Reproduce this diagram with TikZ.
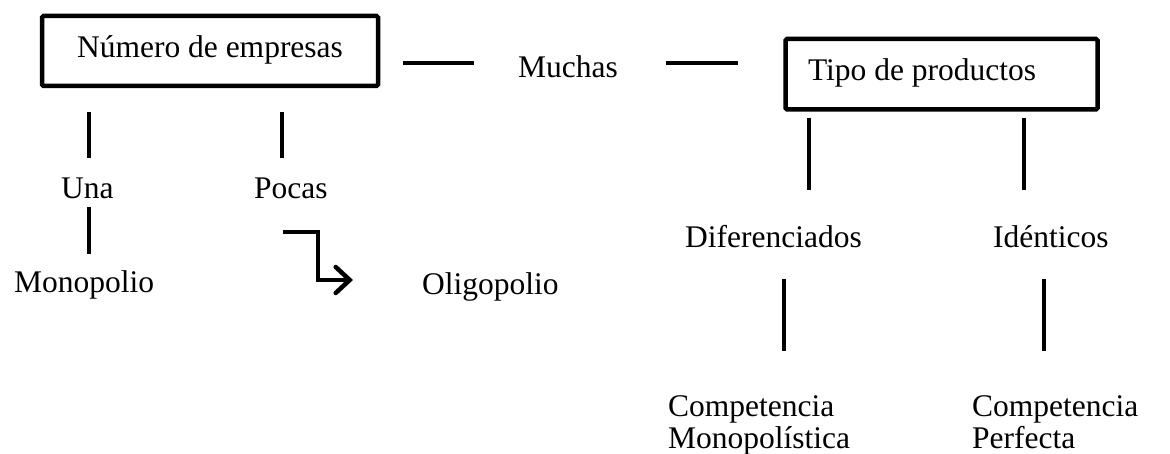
\documentclass[tikz,border=0pt]{standalone}
\usepackage{fontspec}
\setmainfont{Liberation Serif}
\usetikzlibrary{arrows.meta}
\begin{document}
\begin{tikzpicture}[x=1pt,y=-1pt,
  lbl/.style={anchor=base west, inner sep=0pt, font=\fontsize{31.5}{33}\selectfont},
  conn/.style={line width=4.5pt},
  boxnode/.style={draw, line width=4.5pt, rounded corners=1.5pt, inner sep=0pt,
    font=\fontsize{31.5}{33}\selectfont}]
\useasboundingbox (0,0) rectangle (1170,454);

% boxes
\node[boxnode, minimum width=336pt, minimum height=70pt, text height=19.6pt, text depth=7pt] (num) at (210,51) {Número de empresas};
\node[boxnode, minimum height=70.5pt, inner xsep=22.5pt, text height=20.5pt, text depth=7pt] (tipo) at (941.5,74.25) {\makebox[267pt][l]{Tipo de productos}};

% labels
\node[lbl] (muchas) at (518,78) {Muchas};
\node[lbl] (una) at (61,199) {Una};
\node[lbl] (pocas) at (254,199) {Pocas};
\node[lbl] (mono) at (14,293) {Monopolio};
\node[lbl] (oligo) at (422,295) {Oligopolio};
\node[lbl] (dif) at (685,248) {Diferenciados};
\node[lbl] (iden) at (993,248) {Idénticos};
\node[lbl] (cmA) at (668,416) {Competencia};
\node[lbl] (cmB) at (668,448) {Monopolística};
\node[lbl] (cpA) at (972,416) {Competencia};
\node[lbl] (cpB) at (972,448) {Perfecta};

% connector end points
\coordinate (h1a) at (403,63);   \coordinate (h1b) at (474,63);
\coordinate (h2a) at (666,63);   \coordinate (h2b) at (738,63);
\coordinate (v1a) at (89,112);   \coordinate (v1b) at (89,158);
\coordinate (v2a) at (282,112);  \coordinate (v2b) at (282,158);
\coordinate (v3a) at (89,207);   \coordinate (v3b) at (89,254);
\coordinate (v4a) at (809,118);  \coordinate (v4b) at (809,190);
\coordinate (v5a) at (1024,118); \coordinate (v5b) at (1024,190);
\coordinate (v6a) at (784,279);  \coordinate (v6b) at (784,351);
\coordinate (v7a) at (1044,279); \coordinate (v7b) at (1044,351);
\coordinate (arA) at (283,232);  \coordinate (arB) at (318,280);
\coordinate (arC) at (353,280);

% connectors
\draw[conn] (h1a) -- (h1b);
\draw[conn] (h2a) -- (h2b);
\draw[conn] (v1a) -- (v1b);
\draw[conn] (v2a) -- (v2b);
\draw[conn] (v3a) -- (v3b);
\draw[conn] (v4a) -- (v4b);
\draw[conn] (v5a) -- (v5b);
\draw[conn] (v6a) -- (v6b);
\draw[conn] (v7a) -- (v7b);
\draw[conn, line join=miter, -{Straight Barb[length=14pt,width=26pt,line cap=round]}] (arA) -| (arB) -- (arC);
\end{tikzpicture}
\end{document}
